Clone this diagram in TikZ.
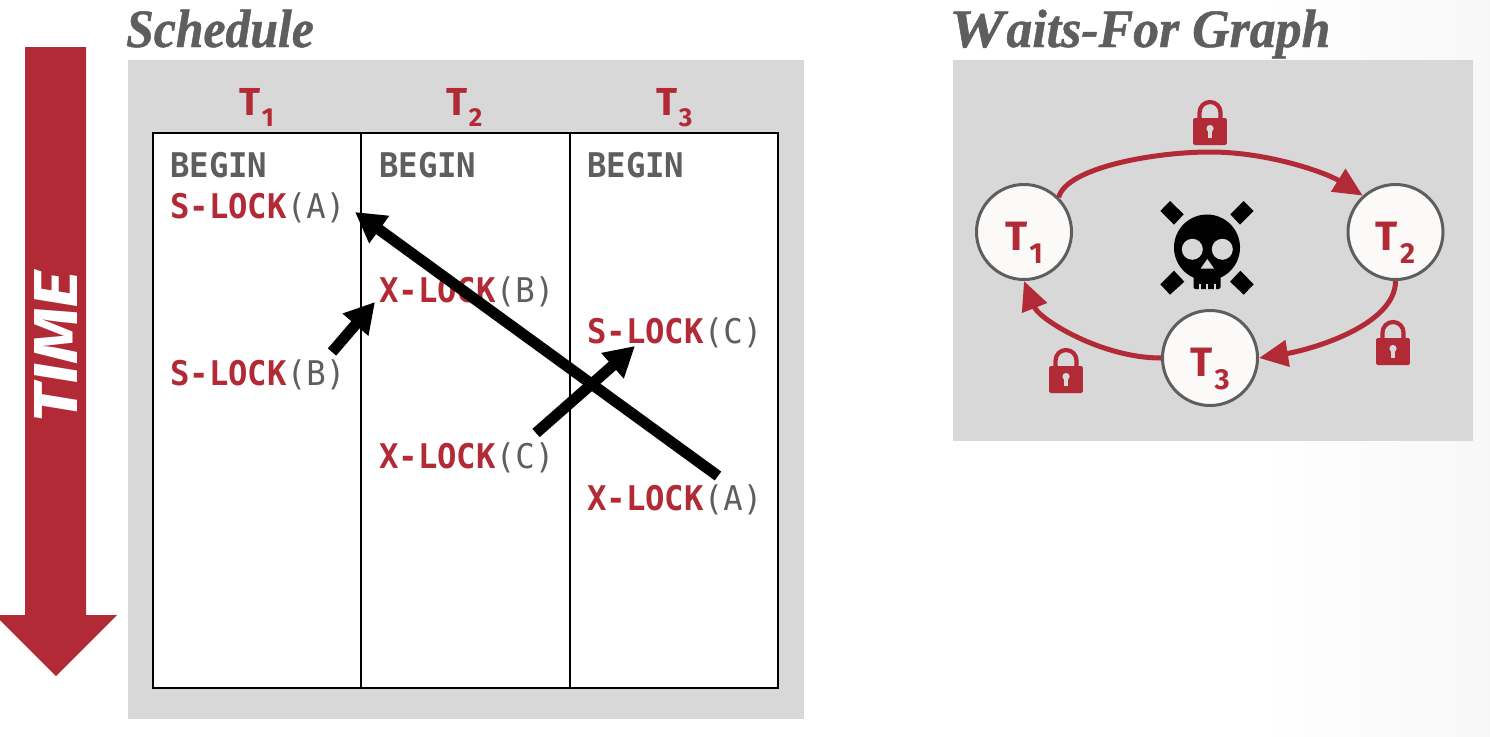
\documentclass[tikz,border=0pt]{standalone}
\usepackage{fontspec}
\usetikzlibrary{arrows.meta,calc}
\setmainfont{Liberation Serif}
\newfontfamily\titlefont{Liberation Serif}[BoldItalicFeatures={FakeBold=0.9}]
\newfontfamily\uifont{Fira Sans}
\newfontfamily\codefont{DejaVu Sans Mono}[FakeStretch=0.95]
\definecolor{lockred}{HTML}{B22A36}
\definecolor{inkgrey}{HTML}{5E5E5E}
\definecolor{panelgrey}{HTML}{D8D8D8}
\definecolor{nodefill}{HTML}{FBFAF8}
\newcommand{\txn}[1]{T\kern1.5pt\raisebox{-11pt}{\fontsize{26}{26}\selectfont #1}}
\newcommand{\bigtxn}[1]{T\kern2pt\raisebox{-13pt}{\fontsize{29}{29}\selectfont #1}}
\newcommand{\kw}[1]{\textcolor{lockred}{\bfseries #1}}
\newcommand{\obj}[1]{\textcolor{inkgrey}{(#1)}}
\tikzset{
  x=1pt,y=-1pt,
  panel/.style={fill=panelgrey,draw=none},
  heading/.style={anchor=base west,inner sep=0pt,text=inkgrey,font=\titlefont\fontsize{54}{54}\selectfont\bfseries\itshape},
  column/.style={draw=black,line width=1.6pt,fill=white},
  colhead/.style={anchor=base west,inner sep=0pt,text=lockred,font=\uifont\fontsize{39}{39}\selectfont\bfseries},
  code/.style={anchor=base west,inner sep=0pt,font=\codefont\fontsize{34}{34}\selectfont},
  begintext/.style={code,text=inkgrey,font=\codefont\fontsize{34}{34}\selectfont\bfseries},
  waits/.style={line width=11pt,draw=black,-{Triangle[length=30pt,width=32pt]}},
  txnnode/.style={circle,minimum size=95pt,inner sep=0pt,draw=inkgrey,line width=3pt,fill=nodefill,text=lockred,text height=46pt,text depth=10pt,font=\uifont\fontsize{41}{41}\selectfont\bfseries},
  edgeline/.style={line width=5pt,draw=lockred,-{Triangle[length=29pt,width=26pt]}},
  padlock/.pic={
    \draw[lockred,line width=4.2pt] (-10.5,20) -- (-10.5,12.5) arc[start angle=180,end angle=0,radius=10.5pt] -- (10.5,20);
    \fill[lockred,rounded corners=1.5pt] (-16.8,18) rectangle (16.8,45);
    \fill[panelgrey] (0,28.5) circle[radius=3.6pt];
    \fill[panelgrey] (-2.2,28.5) rectangle (2.2,38);
  }
}
\begin{document}
\begin{tikzpicture}
\useasboundingbox (0,0) rectangle (1490,736);
\fill[white] (0,0) rectangle (1490,736);
\shade[left color=white,right color=black!3] (1260,0) rectangle (1490,736);

% time axis
\fill[lockred] (25,47) -- (86,47) -- (86,615) -- (117,615) -- (56,676) -- (-5,615) -- (25,615) -- cycle;
\node[rotate=90,inner sep=0pt,text=white,font=\uifont\fontsize{62}{62}\selectfont\bfseries\itshape] (timelabel) at (56,347) {\scalebox{1.16}[1]{TIME}};

% schedule panel
\node[heading,xscale=0.92] (schedtitle) at (126,47) {Schedule};
\fill[panel] (128,60) rectangle (804,719);
\draw[column] (153,133) rectangle (361,688);
\draw[column] (361,133) rectangle (570,688);
\draw[column] (570,133) rectangle (778,688);
\node[colhead] (h1) at (239,115) {\txn{1}};
\node[colhead] (h2) at (446,115) {\txn{2}};
\node[colhead] (h3) at (656,115) {\txn{3}};

\node[begintext] (b1) at (170,177) {BEGIN};
\node[begintext] (b2) at (379,177) {BEGIN};
\node[begintext] (b3) at (587,177) {BEGIN};
\node[code] (sa) at (170,218) {\kw{S-LOCK}\obj{A}};
\node[code] (xb) at (379,302) {\kw{X-LOCK}\obj{B}};
\node[code] (sc) at (587,343) {\kw{S-LOCK}\obj{C}};
\node[code] (sb) at (170,385) {\kw{S-LOCK}\obj{B}};
\node[code] (xc) at (379,468) {\kw{X-LOCK}\obj{C}};
\node[code] (xa) at (587,510) {\kw{X-LOCK}\obj{A}};

% lock wait arrows
\draw[waits] ([shift={(162,-33)}]sb.base west) -- ([shift={(-4,0)}]xb.base west);
\draw[waits] ([shift={(157,-35)}]xc.base west) -- ([shift={(48,3)}]sc.base west);
\draw[waits] ([shift={(131,-34)}]xa.base west) -- ([shift={(185,-6)}]sa.base west);

% waits-for graph panel
\node[heading,xscale=0.96] (graphtitle) at (949,47) {\scalebox{1.2}[1]{W}\kern2pt aits-For Graph};
\fill[panel] (953,60) rectangle (1473,441);
\node[txnnode] (t1) at (1024,232) {\bigtxn{1}};
\node[txnnode] (t2) at (1395.5,232) {\bigtxn{2}};
\node[txnnode] (t3) at (1210,358) {\bigtxn{3}};

\coordinate (apex) at (1210,152);
\draw[edgeline] (t1.45) .. controls +(8,-30) and +(-55,0) .. (apex) .. controls +(60,0) and +(-35,-22) .. (t2.132);
\draw[edgeline] (t2.south) .. controls +(0,45) and +(50,-8) .. (t3.east);
\draw[edgeline] (t3.west) .. controls +(-60,0) and +(15,38) .. (t1.south);

\pic at (1210,100) {padlock};
\pic at (1393,320) {padlock};
\pic at (1066,348) {padlock};

% skull and crossed bones
\fill[black] (1170,201) -- (1160.3,211) -- (1174,224.7) -- (1183.7,214.3) -- cycle;
\fill[black] (1243.7,201) -- (1253.7,211) -- (1240,224.7) -- (1230.3,214.3) -- cycle;
\fill[black] (1174,270.7) -- (1184.3,281.7) -- (1170,294.7) -- (1160.3,284.3) -- cycle;
\fill[black] (1240.3,270.7) -- (1230,281.7) -- (1243.7,294.7) -- (1253.7,284.3) -- cycle;
\fill[black] (1207,247.5) circle[radius=33pt];
\fill[black,rounded corners=2pt] (1193.5,265) rectangle (1220.5,289);
\fill[panelgrey] (1192.3,249.3) circle[radius=10.5pt];
\fill[panelgrey] (1222.3,249.3) circle[radius=10.5pt];
\fill[panelgrey] (1207.3,259) -- (1200.7,268.5) -- (1214,268.5) -- cycle;
\fill[panelgrey] (1198.5,284) rectangle (1200.5,289.5);
\fill[panelgrey] (1206.2,284) rectangle (1207.8,289.5);
\fill[panelgrey] (1213.5,284) rectangle (1215.5,289.5);
\end{tikzpicture}
\end{document}
